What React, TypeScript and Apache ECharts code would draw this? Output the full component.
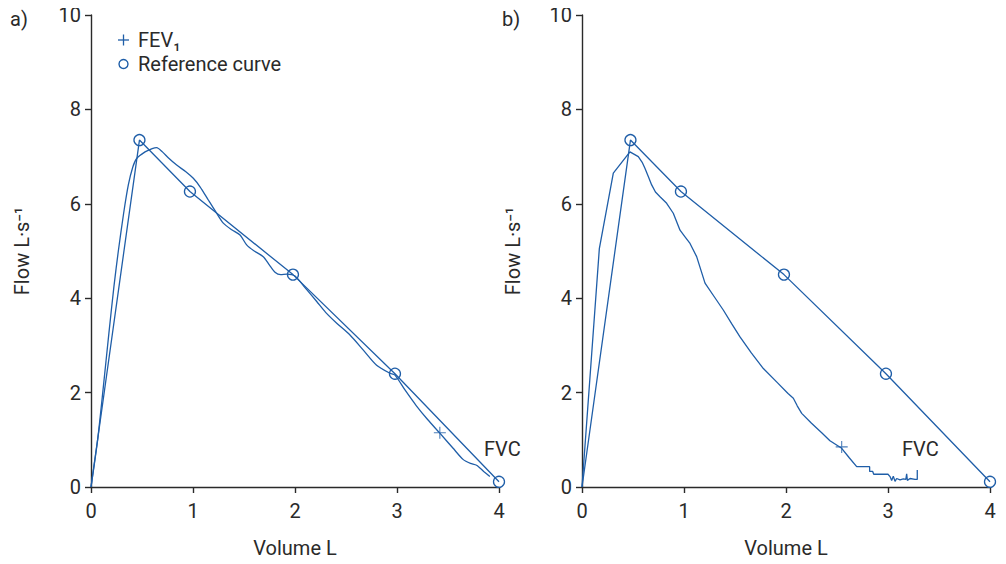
import React, { useEffect, useRef } from "react";
import * as echarts from "echarts";

const xTicks = [0, 1, 2, 3, 4];
const yTicks = [0, 2, 4, 6, 8, 10];

// Reference curve (same in both panels)
const refX = [0, 0.475, 0.97, 1.98, 2.98, 4.0];
const refY = [0, 7.35, 6.26, 4.5, 2.4, 0.11];

// Panel a: measured curve
const measuredA: [number, number][] = [
  [0, 0], [0.065, 1.0], [0.12, 2.1], [0.175, 3.25], [0.225, 4.25], [0.268, 5.0],
  [0.32, 5.8], [0.366, 6.4], [0.41, 6.78], [0.448, 6.96], [0.53, 7.1], [0.6, 7.17],
  [0.644, 7.19], [0.7, 7.1], [0.76, 6.97], [0.84, 6.82], [0.93, 6.68], [1.003, 6.54],
  [1.069, 6.36], [1.15, 6.08], [1.232, 5.8], [1.297, 5.59], [1.38, 5.45], [1.461, 5.34],
  [1.526, 5.13], [1.6, 5.0], [1.689, 4.88], [1.75, 4.7], [1.804, 4.55], [1.86, 4.5],
  [1.919, 4.51], [2.0, 4.47], [2.1, 4.22], [2.213, 3.93], [2.3, 3.7], [2.409, 3.47],
  [2.539, 3.22], [2.67, 2.9], [2.8, 2.58], [2.93, 2.41], [2.98, 2.37], [3.08, 2.05],
  [3.19, 1.72], [3.3, 1.43], [3.42, 1.14], [3.55, 0.82], [3.65, 0.58], [3.72, 0.5],
  [3.78, 0.46], [3.85, 0.33], [3.91, 0.22]
];
const fev1A: [number, number] = [3.42, 1.15];

// Panel b: measured curve
const measuredB: [number, number][] = [
  [0, 0], [0.17, 5.05], [0.307, 6.65], [0.47, 7.1], [0.552, 7.0], [0.59, 6.88],
  [0.618, 6.75], [0.65, 6.58], [0.683, 6.4], [0.72, 6.25], [0.765, 6.15], [0.83, 6.01],
  [0.895, 5.8], [0.961, 5.44], [1.01, 5.3], [1.059, 5.16], [1.124, 4.88], [1.206, 4.32],
  [1.3, 4.02], [1.385, 3.75], [1.47, 3.45], [1.549, 3.18], [1.66, 2.84], [1.778, 2.51],
  [1.92, 2.2], [2.02, 1.98], [2.072, 1.88], [2.11, 1.72], [2.154, 1.56], [2.25, 1.35],
  [2.35, 1.15], [2.431, 0.98], [2.546, 0.82], [2.62, 0.62], [2.693, 0.43], [2.82, 0.43],
  [2.82, 0.33], [2.85, 0.33], [2.86, 0.27], [3.0, 0.27], [3.02, 0.22], [3.036, 0.14],
  [3.052, 0.23], [3.069, 0.12], [3.085, 0.18], [3.118, 0.15], [3.15, 0.17], [3.175, 0.16],
  [3.183, 0.28], [3.19, 0.14], [3.216, 0.18], [3.265, 0.16], [3.287, 0.16], [3.287, 0.36]
];
const fev1B: [number, number] = [2.546, 0.85];

const BLUE = "#1f5ea8";
const INK = "#2a2a2a";
const FONT = "Roboto, 'DejaVu Sans'";
const FS = 20;
const PLUS =
  "path://M-0.09,-1H0.09V-0.09H1V0.09H0.09V1H-0.09V0.09H-1V-0.09H-0.09Z";

export default function App() {
  const ref = useRef<HTMLDivElement>(null);
  useEffect(() => {
    const chart = echarts.init(ref.current!, null, { renderer: "svg" });
    const grids = [
      { left: 91, top: 15, width: 408, height: 472 },
      { left: 582, top: 15, width: 408, height: 472 }
    ];
    const xAxis = grids.map((_, i) => ({
      type: "value",
      gridIndex: i,
      min: xTicks[0],
      max: xTicks[xTicks.length - 1],
      interval: 1,
      name: "Volume L",
      nameLocation: "middle",
      nameGap: 51,
      nameTextStyle: { color: INK, fontSize: FS, fontFamily: FONT },
      axisLine: { lineStyle: { color: INK, width: 1.4 } },
      axisTick: { show: true, inside: false, length: 6, lineStyle: { color: INK, width: 1.4 } },
      axisLabel: { color: INK, fontSize: FS, fontFamily: FONT, margin: 14 },
      splitLine: { show: false }
    }));
    const yAxis = grids.map((_, i) => ({
      type: "value",
      gridIndex: i,
      min: yTicks[0],
      max: yTicks[yTicks.length - 1],
      interval: 2,
      name: "Flow L·s⁻¹",
      nameLocation: "middle",
      nameGap: 59,
      nameTextStyle: { color: INK, fontSize: FS, fontFamily: FONT },
      axisLine: { show: true, lineStyle: { color: INK, width: 1.4 } },
      axisTick: { show: true, inside: false, length: 6, lineStyle: { color: INK, width: 1.4 } },
      axisLabel: { color: INK, fontSize: FS, fontFamily: FONT, margin: 10 },
      splitLine: { show: false }
    }));
    const refData = refX.map((x, i) =>
      i === 0 ? { value: [x, refY[i]], symbol: "none" } : { value: [x, refY[i]] }
    );
    const series: any[] = [];
    [measuredA, measuredB].forEach((m, i) => {
      series.push({
        type: "line",
        name: "Measured",
        xAxisIndex: i,
        yAxisIndex: i,
        data: m,
        showSymbol: false,
        symbol: "none",
        smooth: i === 0 ? 0.25 : false,
        clip: false,
        lineStyle: { color: BLUE, width: 1.3 }
      });
      series.push({
        type: "line",
        name: "Reference curve",
        xAxisIndex: i,
        yAxisIndex: i,
        data: refData,
        symbol: "circle",
        symbolSize: 11,
        clip: false,
        lineStyle: { color: BLUE, width: 1.3 },
        itemStyle: { color: "rgba(0,0,0,0)", borderColor: BLUE, borderWidth: 1.3 }
      });
      series.push({
        type: "scatter",
        name: "FEV1",
        xAxisIndex: i,
        yAxisIndex: i,
        data: [i === 0 ? fev1A : fev1B],
        symbol: PLUS,
        symbolSize: 12,
        clip: false,
        itemStyle: { color: BLUE }
      });
    });
    const txt = (x: number, y: number, text: string, size = FS, extra: any = {}) => ({
      type: "text",
      x,
      y,
      style: {
        text,
        fill: INK,
        fontSize: size,
        fontFamily: FONT,
        textVerticalAlign: "middle",
        verticalAlign: "middle",
        ...extra
      }
    });
    chart.setOption({
      animation: false,
      backgroundColor: "#ffffff",
      grid: grids,
      xAxis,
      yAxis,
      series,
      graphic: [
        txt(10, 19, "a)"),
        txt(502, 19, "b)"),
        // legend
        { type: "line", shape: { x1: 118, y1: 40, x2: 129, y2: 40 }, style: { stroke: BLUE, lineWidth: 1.3 } },
        { type: "line", shape: { x1: 123.5, y1: 34.5, x2: 123.5, y2: 45.5 }, style: { stroke: BLUE, lineWidth: 1.3 } },
        txt(138, 40, "FEV₁"),
        { type: "circle", shape: { cx: 123.5, cy: 64, r: 4.5 }, style: { fill: "none", stroke: BLUE, lineWidth: 1.4 } },
        txt(138, 64, "Reference curve"),
        txt(484, 449, "FVC"),
        txt(902, 449, "FVC")
      ]
    });
    return () => chart.dispose();
  }, []);
  return <div ref={ref} style={{ width: 1006, height: 564, marginLeft: -8, marginTop: -8 }} />;
}
